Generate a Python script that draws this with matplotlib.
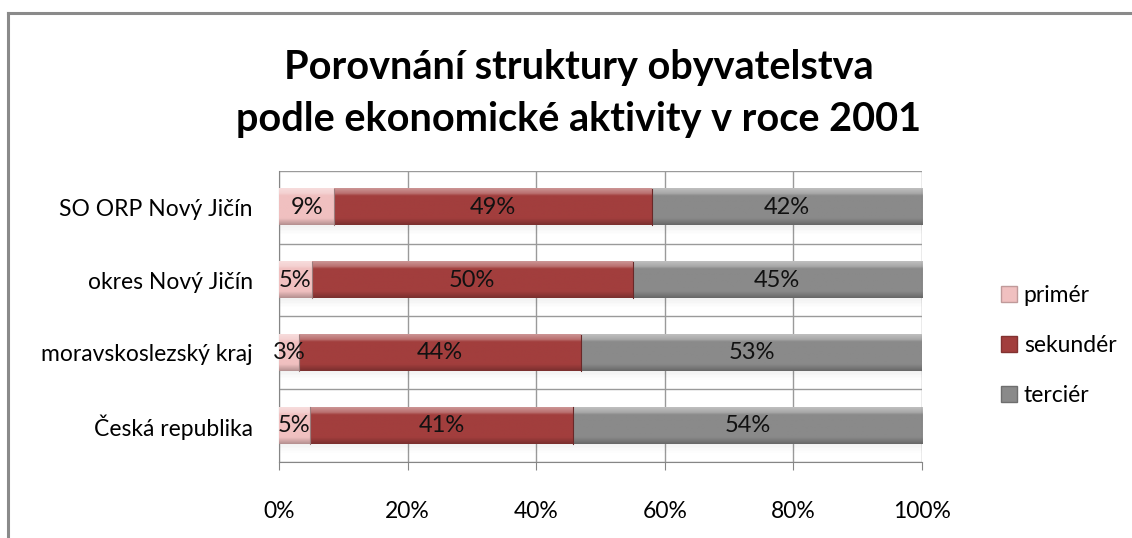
import matplotlib
matplotlib.use("Agg")
import matplotlib.pyplot as plt
import numpy as np
from matplotlib.colors import to_rgb, LinearSegmentedColormap
from matplotlib.patches import Patch
from matplotlib.lines import Line2D

plt.rcParams['font.family'] = ['Lato', 'DejaVu Sans']

categories = ["SO ORP Nový Jičín", "okres Nový Jičín", "moravskoslezský kraj", "Česká republika"]
series_names = ["primér", "sekundér", "terciér"]
primer = [8.6, 5.1, 3.1, 4.8]
sekunder = [49.4, 49.9, 43.9, 40.9]
tercier = [42.0, 45.0, 53.0, 54.3]
xticks = [0, 20, 40, 60, 80, 100]
xtick_labels = ["0%", "20%", "40%", "60%", "80%", "100%"]
title = "Porovnání struktury obyvatelstva\npodle ekonomické aktivity v roce 2001"

colors = ["#F0C0C0", "#A23E3D", "#8A8A8A"]

fig = plt.figure(figsize=(11.32, 5.38), dpi=100)
ax = fig.add_axes([0.2465, 0.1413, 0.568, 0.541])

n = len(categories)
ypos = np.arange(n)[::-1]  # first category on top
data = [primer, sekunder, tercier]
left = np.zeros(n)
bar_h = 0.5


def shade(c, f):
    r = np.array(to_rgb(c))
    if f >= 0:
        return tuple(r + (1 - r) * f)
    return tuple(r * (1 + f))


all_containers = []
for vals, col, name in zip(data, colors, series_names):
    cont = ax.barh(ypos, vals, left=left, height=bar_h, color=col, label=name,
                   edgecolor='none', zorder=3)
    all_containers.append((cont, col, vals))
    left = left + np.array(vals)

# bevel / gradient effect & shadow, derived from bar patches
for cont, col, vals in all_containers:
    cmap = LinearSegmentedColormap.from_list(
        "g", [(0.0, shade(col, -0.25)), (0.12, shade(col, -0.08)), (0.18, col),
              (0.80, col), (0.86, shade(col, 0.25)), (1.0, shade(col, 0.45))])
    grad = np.linspace(0, 1, 64).reshape(-1, 1)
    for p in cont.patches:
        x0, y0 = p.get_x(), p.get_y()
        w, h = p.get_width(), p.get_height()
        ax.imshow(grad, extent=(x0, x0 + w, y0, y0 + h), origin='lower',
                  cmap=cmap, aspect='auto', zorder=3.5, interpolation='bilinear')
        for k in range(6):
            ax.add_patch(plt.Rectangle((x0, y0 - 0.02 * (k + 1)), w, 0.02,
                                       color='black', alpha=0.05 * (6 - k) / 6,
                                       lw=0, zorder=2.5))
        ax.plot([x0 + w, x0 + w], [y0, y0 + h], color=shade(col, -0.35), lw=0.8, zorder=3.6)

for cont, col, vals in all_containers:
    for p, v in zip(cont.patches, vals):
        ax.text(p.get_x() + p.get_width() / 2, p.get_y() + p.get_height() / 2,
                f"{v:.0f}%", ha='center', va='center', fontsize=17, color='#111111', zorder=5)

ax.set_xlim(0, 100)
ax.set_ylim(-0.5, n - 0.5)
ax.set_xticks(xticks)
ax.set_xticklabels(xtick_labels, fontsize=16.5)
ax.set_yticks(ypos)
ax.set_yticklabels(categories, fontsize=16.5)
ax.set_yticks(np.arange(-0.5, n, 1.0), minor=True)
ax.tick_params(axis='y', which='both', length=0, pad=19)
ax.tick_params(axis='x', which='major', length=6, color='#868686', pad=22)
ax.grid(axis='x', which='major', color='#9a9a9a', lw=1, zorder=0)
ax.grid(axis='y', which='minor', color='#9a9a9a', lw=1, zorder=0)
ax.set_axisbelow(True)
for s in ['top', 'right']:
    ax.spines[s].set_visible(False)
ax.spines['left'].set_color('#868686')
ax.spines['bottom'].set_color('#868686')

fig.text(0.511, 0.827, title, ha='center', va='center', fontsize=28.5,
         fontweight='bold', linespacing=1.5)

handles = [Patch(facecolor=c, edgecolor=shade(c, -0.2)) for c in colors]
fig.legend(handles, series_names, loc='center left', bbox_to_anchor=(0.866, 0.358),
           frameon=False, fontsize=16.5, handlelength=0.7, handleheight=0.7,
           handletextpad=0.3, labelspacing=1.25)

# outer chart frame (partially cropped)
fig.add_artist(Line2D([8 / 1132, 1.0], [1 - 13 / 538] * 2, color='#8a8a8a', lw=2.2))
fig.add_artist(Line2D([8 / 1132] * 2, [0, 1 - 13 / 538], color='#8a8a8a', lw=2.2))

fig.savefig("out.png", dpi=100)
